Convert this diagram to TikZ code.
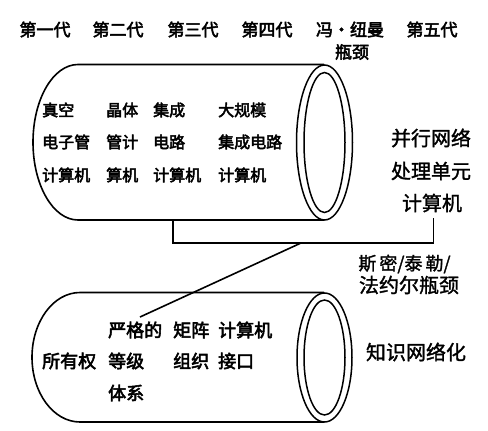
\documentclass[tikz,border=0pt]{standalone}
\usepackage{fontspec}
\newfontfamily\cjk{Noto Sans CJK SC}
\newfontfamily\cjkb{Noto Sans CJK SC}[FakeBold=3]
\newfontfamily\cjkm{Noto Sans CJK SC}[FakeBold=1.5]
\begin{document}
\begin{tikzpicture}[x=1pt,y=-1pt,
  hdr/.style={inner sep=0pt,font=\cjkb\fontsize{17}{17}\selectfont},
  intxt/.style={inner sep=0pt,anchor=west,font=\cjkb\fontsize{16}{16}\selectfont},
  lowtxt/.style={inner sep=0pt,anchor=west,font=\cjkb\fontsize{18}{18}\selectfont},
  side/.style={inner sep=0pt,font=\cjkm\fontsize{20}{20}\selectfont},
  body/.style={line width=1.6pt},
  ring/.style={line width=1.5pt,fill=white},
  conn/.style={line width=1.6pt}]
\useasboundingbox (0,0) rectangle (488,431);
% header
\node[hdr] (g1) at (45,29.5) {第一代};
\node[hdr] (g2) at (118,29.5) {第二代};
\node[hdr] (g3) at (193,29.5) {第三代};
\node[hdr] (g4) at (267,29.5) {第四代};
\node[hdr] (vn) at (350,29.5) {冯·纽曼};
\node[hdr] (g5) at (432,29.5) {第五代};
\node[hdr] (bn) at (352,52) {瓶颈};
% top cylinder
\draw[body] (324,64.5) -- (78,64.5) arc[start angle=270,end angle=90,x radius=45,y radius=77.75] -- (324,220);
\draw[ring] (324.5,142.5) ellipse[x radius=28,y radius=77.5];
\draw[line width=1.5pt] (324.5,142.5) ellipse[x radius=20.5,y radius=70];
\coordinate (tb) at (173,221);
% top texts
\node[intxt] (t11) at (42,110) {真空};
\node[intxt] (t12) at (106,110) {晶体};
\node[intxt] (t13) at (153,110) {集成};
\node[intxt] (t14) at (218,110) {大规模};
\node[intxt] (t21) at (42,142) {电子管};
\node[intxt] (t22) at (106,142) {管计};
\node[intxt] (t23) at (153,142) {电路};
\node[intxt] (t24) at (218,142) {集成电路};
\node[intxt] (t31) at (42,175) {计算机};
\node[intxt] (t32) at (106,175) {算机};
\node[intxt] (t33) at (153,175) {计算机};
\node[intxt] (t34) at (218,175) {计算机};
% right labels top
\node[side] (p1) at (431,138) {并行网络};
\node[side] (p2) at (431,171) {处理单元};
\node[side] (p3) at (432,203) {计算机};
% connectors
\coordinate (tr) at (433.5,218);
\draw[conn] (tb) |- (433.5,243) coordinate (br) -- (tr);
\coordinate (dj) at (301,243);
\coordinate (de) at (140,317);
\draw[conn] (dj) -- (de);
% smith label
\node[side,font=\cjkm\fontsize{18}{18}\selectfont] (sm) at (404.5,264) {斯\,密/泰\,勒/};
\node[side] (fy) at (409,285) {法约尔瓶颈};
% bottom cylinder
\draw[body] (324,292.5) -- (80,292.5) arc[start angle=270,end angle=90,x radius=48,y radius=64.75] -- (324,422);
\draw[ring] (324.5,357.5) ellipse[x radius=27.5,y radius=64.5];
\draw[line width=1.5pt] (324.5,357.5) ellipse[x radius=20.5,y radius=57.5];
% bottom texts
\node[lowtxt] (b11) at (108,330) {严格的};
\node[lowtxt] (b12) at (173,330) {矩阵};
\node[lowtxt] (b13) at (218,330) {计算机};
\node[lowtxt] (b21) at (42,361) {所有权};
\node[lowtxt] (b22) at (108,361) {等级};
\node[lowtxt] (b23) at (173,361) {组织};
\node[lowtxt] (b24) at (218,361) {接口};
\node[lowtxt] (b31) at (108,393) {体系};
\node[side] (kn) at (416,352) {知识网络化};
\end{tikzpicture}
\end{document}
